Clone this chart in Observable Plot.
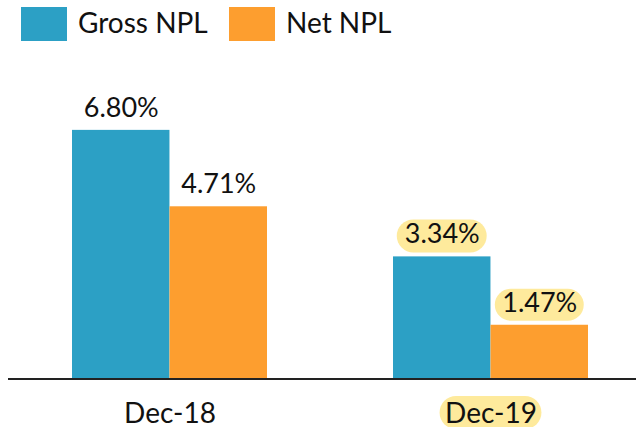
<!DOCTYPE html>
<html>
<head>
<meta charset="utf-8">
<script src="https://cdn.jsdelivr.net/npm/d3@7"></script>
<script src="https://cdn.jsdelivr.net/npm/@observablehq/plot@0.6"></script>
<style>
  html, body { margin: 0; padding: 0; background: #ffffff; }
  body { width: 636px; height: 427px; overflow: hidden; font-family: Lato, "Open Sans", sans-serif; }
  #legend { position: relative; height: 50px; }
  .sw { position: absolute; top: 7px; width: 46px; height: 34px; }
  .lt { position: absolute; top: 5px; font-size: 28px; line-height: 34px; color: #111; }
  #chart svg { display: block; overflow: visible; }
</style>
</head>
<body>
<div id="legend"></div>
<div id="chart"></div>
<script>
// ---- data ----
const categories = ["Dec-18", "Dec-19"];
const series = ["Gross NPL", "Net NPL"];
const grossValues = [6.80, 3.34];
const netValues = [4.71, 1.47];
const grossLabels = ["6.80%", "3.34%"];
const netLabels = ["4.71%", "1.47%"];
const highlighted = ["Dec-19"];
const colors = ["#2CA0C5", "#FD9E2F"];
const highlightColor = "#FEEA9C";

// ---- build rows ----
const grossRows = categories.map((c, i) => ({date: c, series: series[0], value: grossValues[i], label: grossLabels[i]}));
const netRows = categories.map((c, i) => ({date: c, series: series[1], value: netValues[i], label: netLabels[i]}));
const hlGross = grossRows.filter(d => highlighted.includes(d.date));
const hlNet = netRows.filter(d => highlighted.includes(d.date));
const hlTicks = categories.filter(c => highlighted.includes(c)).map(c => ({date: c, v: 0}));

// ---- legend ----
const legend = document.getElementById("legend");
const legendPos = [{sw: 21, tx: 78}, {sw: 229, tx: 286}];
series.forEach((s, i) => {
  const sw = document.createElement("div");
  sw.className = "sw"; sw.style.left = legendPos[i].sw + "px"; sw.style.background = colors[i];
  legend.appendChild(sw);
  const t = document.createElement("div");
  t.className = "lt"; t.style.left = legendPos[i].tx + "px"; t.textContent = s;
  legend.appendChild(t);
});

// ---- geometry ----
const W = 636, H = 377, mL = 71, mR = 48, mT = 36, mB = 48.5, padIn = 0.394;
const step = (W - mL - mR) / (categories.length - padIn);
const bw = step * (1 - padIn);
const half = bw / 2;
const font = "Lato, 'Open Sans', sans-serif";

const chart = Plot.plot({
  width: W,
  height: H,
  marginLeft: mL,
  marginRight: mR,
  marginTop: mT,
  marginBottom: mB,
  style: {fontFamily: font, background: "transparent", overflow: "visible"},
  x: {domain: categories, paddingInner: padIn, paddingOuter: 0, axis: null},
  y: {domain: [0, 8], axis: null},
  color: {domain: series, range: colors},
  marks: [
    // label highlights
    Plot.ruleY(hlGross, {x1: "date", x2: "date", y: "value", dy: -21, stroke: highlightColor, strokeWidth: 33, strokeLinecap: "round", insetLeft: half / 2 - 28.5, insetRight: bw - (half / 2 + 28.5)}),
    Plot.ruleY(hlNet, {x1: "date", x2: "date", y: "value", dy: -20.5, stroke: highlightColor, strokeWidth: 32, strokeLinecap: "round", insetLeft: half * 1.5 - 28.5, insetRight: bw - (half * 1.5 + 28.5)}),
    Plot.ruleY(hlTicks, {x1: "date", x2: "date", y: "v", dy: 33.5, stroke: highlightColor, strokeWidth: 33, strokeLinecap: "round", insetLeft: half - 34.5, insetRight: half - 34.5}),
    // bars
    Plot.barY(grossRows, {x: "date", y: "value", fill: "series", insetRight: half}),
    Plot.barY(netRows, {x: "date", y: "value", fill: "series", insetLeft: half}),
    // value labels
    Plot.text(grossRows, {x: "date", y: "value", text: "label", dx: -half / 2, dy: -13.5, lineAnchor: "bottom", fontSize: 27, fill: "#111"}),
    Plot.text(netRows, {x: "date", y: "value", text: "label", dx: half / 2, dy: -13.5, lineAnchor: "bottom", fontSize: 27, fill: "#111"}),
    // baseline
    Plot.ruleY([0], {stroke: "#222", strokeWidth: 2.2, insetLeft: -(mL - 8), insetRight: -mR}),
    // category labels
    Plot.text(categories, {x: d => d, frameAnchor: "bottom", dy: 43.5, lineAnchor: "bottom", fontSize: 28, fill: "#111"})
  ]
});
document.getElementById("chart").appendChild(chart);
</script>
</body>
</html>
